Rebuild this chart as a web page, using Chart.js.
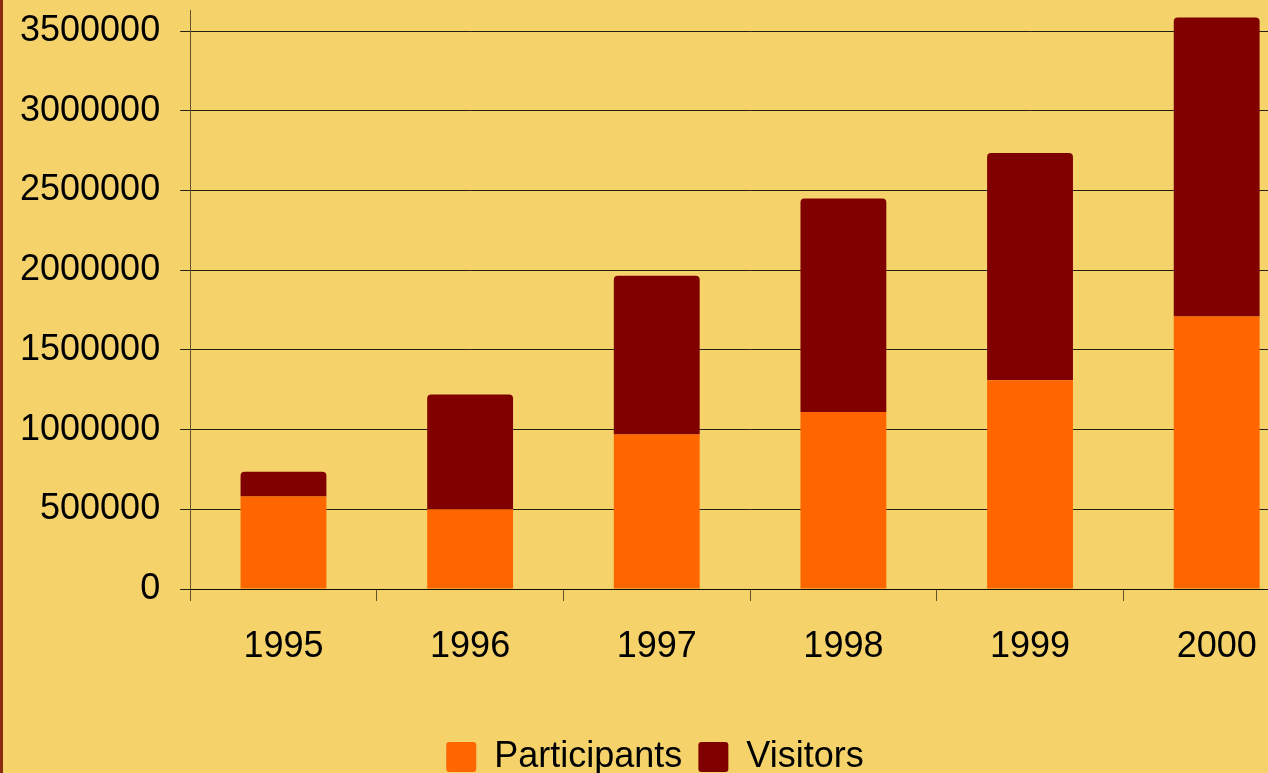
<!DOCTYPE html>
<html>
<head>
<meta charset="utf-8">
<script src="https://cdn.jsdelivr.net/npm/chart.js@4/dist/chart.umd.min.js"></script>
<style>
  html, body { margin: 0; padding: 0; background: #F5D36A; overflow: hidden; }
  #wrap { position: relative; width: 1310px; height: 785px; }
  #edge { position: absolute; left: 0; top: 0; width: 3px; height: 785px; background: #8B2A10; }
</style>
</head>
<body>
<div id="wrap">
  <canvas id="chart" width="1310" height="785"></canvas>
  <div id="edge"></div>
</div>
<script>
const years = ['1995', '1996', '1997', '1998', '1999', '2000'];
const participants = [580000, 500000, 970000, 1110000, 1310000, 1710000];
const visitors = [155000, 720000, 995000, 1340000, 1425000, 1875000];
const yTicks = [0, 500000, 1000000, 1500000, 2000000, 2500000, 3000000, 3500000];

Chart.defaults.font.family = "'Liberation Sans', Arial, sans-serif";
Chart.defaults.font.size = 36;
Chart.defaults.color = '#000';

const ctx = document.getElementById('chart').getContext('2d');

new Chart(ctx, {
    type: 'bar',
    data: {
        labels: years,
        datasets: [{
            label: 'Participants',
            data: participants,
            backgroundColor: '#FF6600',
            borderRadius: 4,
            borderSkipped: 'start'
        }, {
            label: 'Visitors',
            data: visitors,
            backgroundColor: '#800000',
            borderRadius: 4,
            borderSkipped: 'start'
        }]
    },
    options: {
        responsive: false,
        animation: false,
        layout: { padding: 0 },
        datasets: {
            bar: { categoryPercentage: 1, barPercentage: 0.46 }
        },
        scales: {
            x: {
                stacked: true,
                grid: {
                    drawOnChartArea: false,
                    tickLength: 12,
                    color: 'rgba(0,0,0,0.6)'
                },
                border: { color: 'rgba(0,0,0,0.6)', width: 1 },
                ticks: { padding: 24 },
                title: { display: true, text: ' ', font: { size: 10 }, padding: { top: 18.8, bottom: 0 } }
            },
            y: {
                stacked: true,
                min: 0,
                max: 3632000,
                afterBuildTicks: axis => {
                    axis.ticks = yTicks.map(v => ({ value: v }));
                },
                ticks: {
                    padding: 0,
                    font: { lineHeight: 0.56 },
                    // spaces give the left margin and the gap to the tick marks
                    callback: v => '  ' + String(v) + '  '
                },
                grid: {
                    tickLength: 10,
                    color: 'rgba(0,0,0,0.85)'
                },
                border: { color: 'rgba(0,0,0,0.6)', width: 1 }
            }
        },
        plugins: {
            tooltip: { enabled: false },
            legend: {
                position: 'bottom',
                labels: {
                    boxWidth: 30,
                    boxHeight: 30,
                    padding: 16,
                    useBorderRadius: true,
                    borderRadius: 3,
                    font: { size: 36 }
                }
            }
        }
    }
});
</script>
</body>
</html>
